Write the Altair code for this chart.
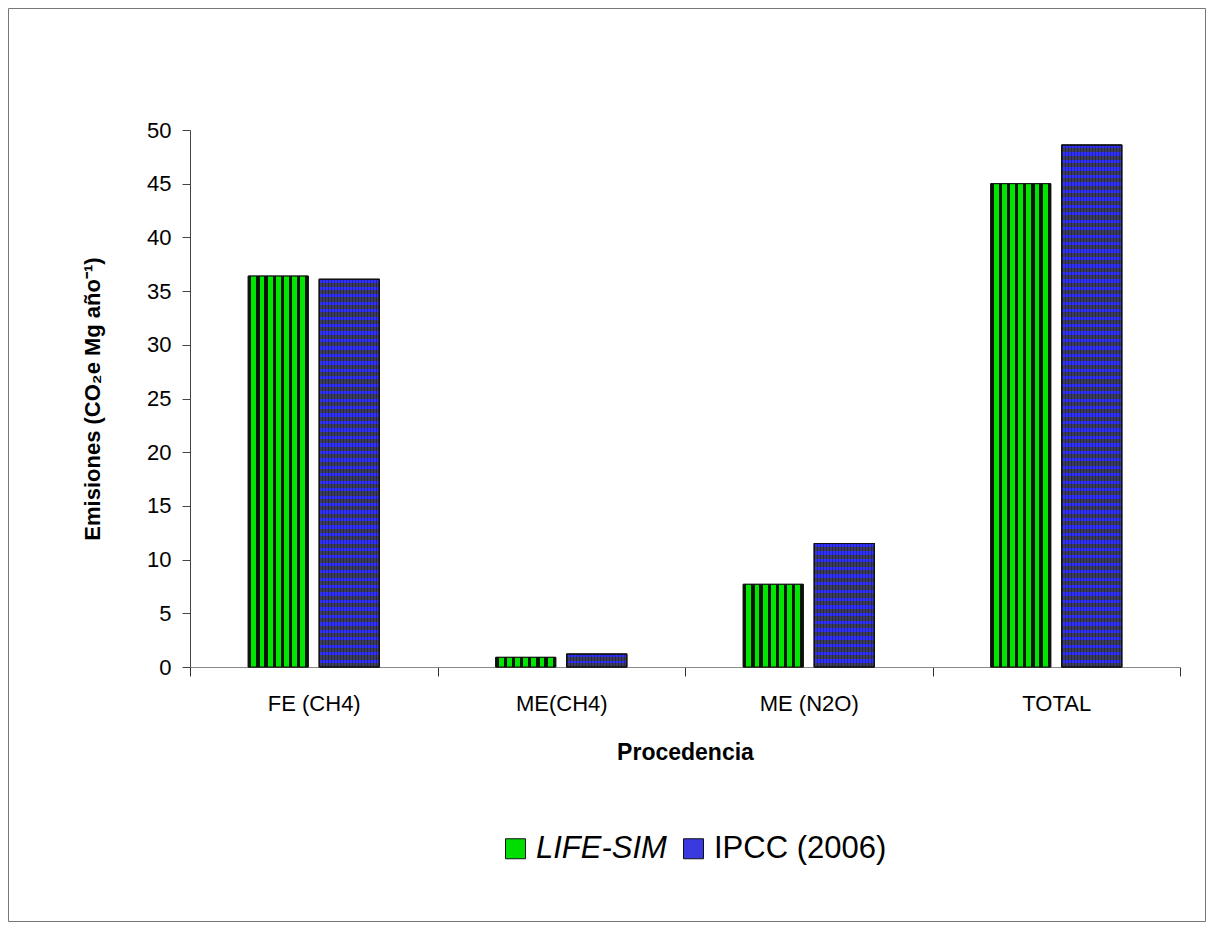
import altair as alt
import pandas as pd

categories = ["FE (CH4)", "ME(CH4)", "ME (N2O)", "TOTAL"]
series = ["LIFE-SIM", "IPCC (2006)"]
life_sim = [36.4, 0.9, 7.7, 45.0]
ipcc = [36.1, 1.2, 11.5, 48.6]
y_ticks = [0, 5, 10, 15, 20, 25, 30, 35, 40, 45, 50]

rows = []
for c, v in zip(categories, life_sim):
    rows.append({"cat": c, "series": series[0], "value": v})
for c, v in zip(categories, ipcc):
    rows.append({"cat": c, "series": series[1], "value": v})
df = pd.DataFrame(rows)

FONT = "Liberation Sans"
PLOT_W, PLOT_H = 990, 537
Y_MAX = 50

# ---- pattern fills built as hard-stop gradients ----
def green_stripes():
    n, d, g = 7, 3.2, 5.0
    total = n * (d + g) + d
    stops = []
    dark, green = "#061406", "#00e600"
    for i in range(n):
        s = i * (d + g) / total
        m = (i * (d + g) + d) / total
        e = ((i + 1) * (d + g)) / total
        stops += [{"offset": s, "color": dark}, {"offset": m, "color": dark},
                  {"offset": m, "color": green}, {"offset": e, "color": green},
                  {"offset": e, "color": dark}]
    stops.append({"offset": 1, "color": dark})
    return {"gradient": "linear", "x1": 0, "y1": 0, "x2": 1, "y2": 0, "stops": stops}


def blue_stripes(value):
    h = value * PLOT_H / Y_MAX
    period = 7.5
    n = max(1, round(h / period))
    b_frac = 3.3 / period
    blue, dark = "#3030ff", "#3c3c5c"
    stops = []
    for i in range(n):
        s = i / n
        m = (i + b_frac) / n
        e = (i + 1) / n
        stops += [{"offset": s, "color": blue}, {"offset": m, "color": blue},
                  {"offset": m, "color": dark}, {"offset": e, "color": dark}]
    return {"gradient": "linear", "x1": 0, "y1": 0, "x2": 0, "y2": 1, "stops": stops}


def grid_lines():
    n = 20
    stops = []
    for i in range(n):
        s = i / n
        m = (i + 0.35) / n
        e = (i + 1) / n
        stops += [{"offset": s, "color": "rgba(0,0,0,0.3)"}, {"offset": m, "color": "rgba(0,0,0,0.3)"},
                  {"offset": m, "color": "rgba(0,0,0,0)"}, {"offset": e, "color": "rgba(0,0,0,0)"}]
    return {"gradient": "linear", "x1": 0, "y1": 0, "x2": 1, "y2": 0, "stops": stops}


x_enc = alt.X("cat:N", sort=categories,
              scale=alt.Scale(paddingInner=0, paddingOuter=0),
              axis=alt.Axis(title="Procedencia", labelAngle=0, tickBand="extent",
                            tickSize=9, labelPadding=17, titlePadding=27,
                            domainColor="#888888", tickColor="#333333",
                            labelFontSize=22, titleFontSize=23, titleFontWeight="bold",
                            labelFont=FONT, titleFont=FONT, labelColor="black", titleColor="black"))
xo_enc = alt.XOffset("series:N", sort=series,
                     scale=alt.Scale(domain=series, paddingInner=0.155, paddingOuter=0.82))
y_enc = alt.Y("value:Q",
              scale=alt.Scale(domain=[0, Y_MAX], nice=False),
              axis=alt.Axis(title="Emisiones (CO₂e Mg año⁻¹)", values=y_ticks, grid=False,
                            tickSize=8, labelPadding=11, titlePadding=42,
                            domainColor="#444444", tickColor="#444444",
                            labelFontSize=22, titleFontSize=22, titleFontWeight="bold",
                            labelFont=FONT, titleFont=FONT, labelColor="black", titleColor="black"))

base = alt.Chart(df).mark_bar(stroke="#111111", strokeWidth=1).encode(
    x=x_enc, xOffset=xo_enc, y=y_enc,
    color=alt.Color("series:N", sort=series,
                    scale=alt.Scale(domain=series, range=["#00dd00", "#3a3ae0"]),
                    legend=alt.Legend(title=None, orient="none", direction="horizontal",
                                      legendX=310, legendY=703, padding=0,
                                      symbolType="square", symbolSize=400,
                                      symbolStrokeColor="#111111", symbolStrokeWidth=1,
                                      labelFont=FONT, labelFontSize=31, labelColor="black",
                                      labelOffset=5, columnPadding=11, labelLimit=500,
                                      labelFontStyle=alt.ExprRef(expr="datum.value == 'LIFE-SIM' ? 'italic' : 'normal'")))
)

layers = [base]
layers.append(
    alt.Chart(df).transform_filter(alt.datum.series == series[0])
    .mark_bar(fill=green_stripes(), stroke="#111111", strokeWidth=1)
    .encode(x=x_enc, xOffset=xo_enc, y=y_enc)
)
for c, v in zip(categories, ipcc):
    layers.append(
        alt.Chart(df).transform_filter((alt.datum.series == series[1]) & (alt.datum.cat == c))
        .mark_bar(fill=blue_stripes(v), stroke="#111111", strokeWidth=1)
        .encode(x=x_enc, xOffset=xo_enc, y=y_enc)
    )
layers.append(
    alt.Chart(df).transform_filter(alt.datum.series == series[1])
    .mark_bar(fill=grid_lines(), stroke="#111111", strokeWidth=1.2)
    .encode(x=x_enc, xOffset=xo_enc, y=y_enc)
)

frame = alt.Chart(alt.Data(values=[{"k": 1}])).mark_rect(
    filled=False, stroke="#777777", strokeWidth=1
).encode(x=alt.value(-181.5), x2=alt.value(1015.5), y=alt.value(-121.5), y2=alt.value(791.5))
layers.append(frame)

chart = alt.layer(*layers).properties(
    width=PLOT_W, height=PLOT_H,
    autosize=alt.AutoSizeParams(type="none"),
    padding={"left": 182, "top": 122, "right": 26, "bottom": 256},
    background="white",
).configure_view(stroke=None, strokeWidth=0)

chart.save("out.html", embed_options={"renderer": "svg", "actions": False})
